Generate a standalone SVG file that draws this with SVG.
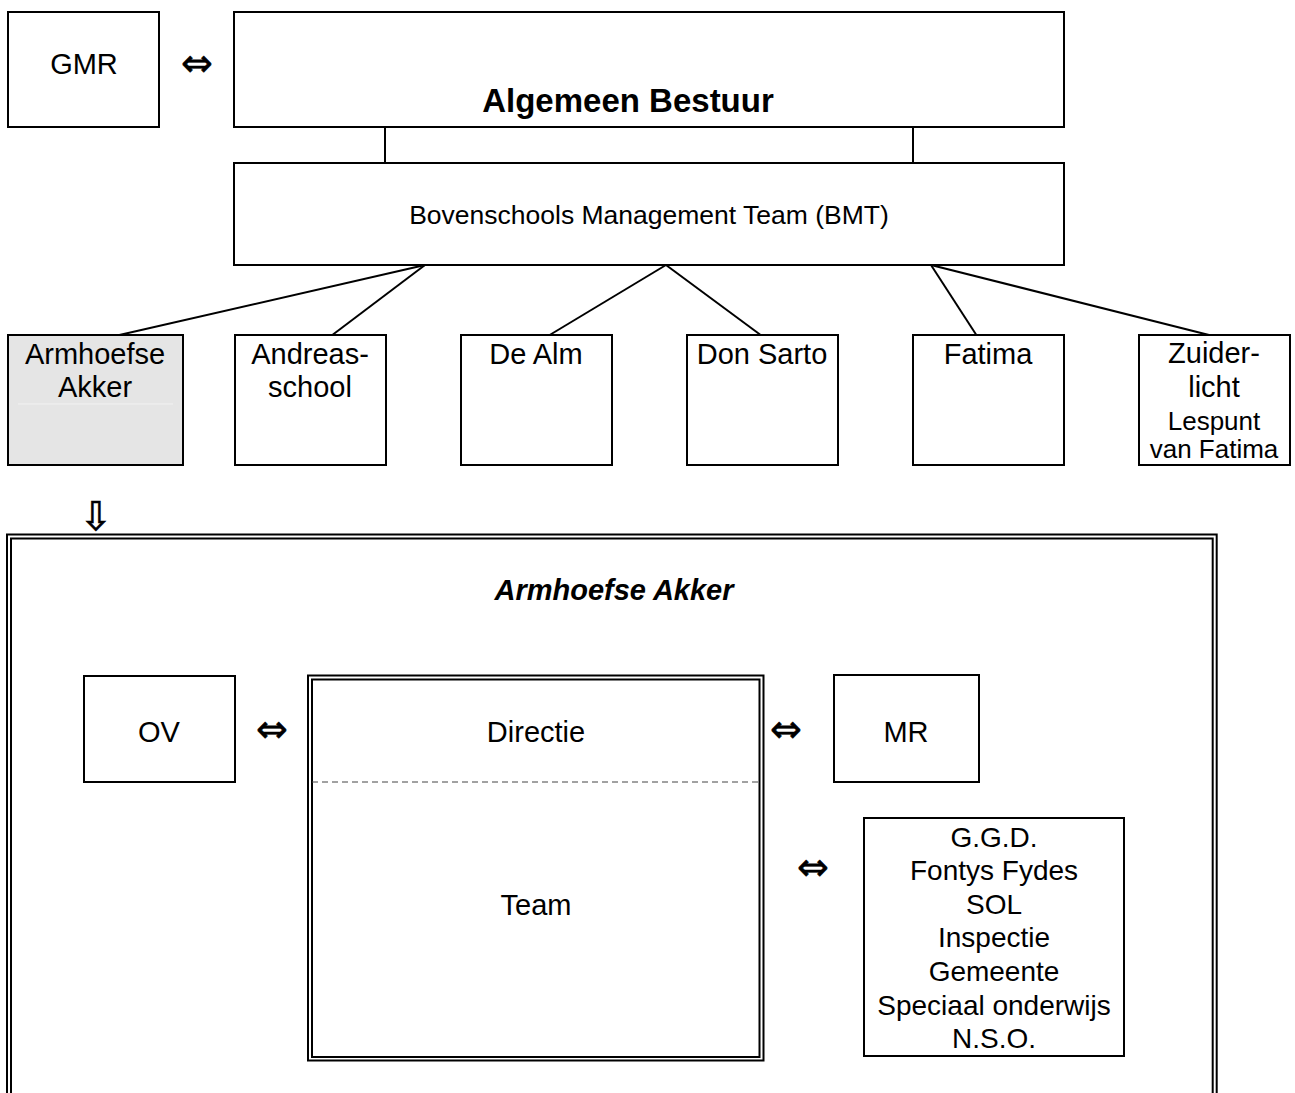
<svg xmlns="http://www.w3.org/2000/svg" width="1295" height="1093" viewBox="0 0 1295 1093">
<style>
.box{fill:#fff;stroke:#000;stroke-width:2}
.ln{stroke:#000;stroke-width:2;fill:none}
.t{font-family:"Liberation Sans",Arial,sans-serif;font-size:29px;fill:#000;text-anchor:middle}
.s{font-size:26px}
.e{font-size:28px}
.sym{font-family:"DejaVu Sans",sans-serif;font-size:38px;fill:#000;stroke:#000;stroke-width:0.6;text-anchor:middle}
</style>
<rect width="1295" height="1093" fill="#fff"/>
<g id="connectors">
<line class="ln" x1="385" y1="127" x2="385" y2="163"/>
<line class="ln" x1="913" y1="127" x2="913" y2="163"/>
<line class="ln" x1="425" y1="265" x2="115" y2="336"/>
<line class="ln" x1="425" y1="265" x2="331" y2="336"/>
<line class="ln" x1="666" y1="265" x2="548" y2="336"/>
<line class="ln" x1="666" y1="265" x2="762" y2="336"/>
<line class="ln" x1="931" y1="265" x2="977" y2="336"/>
<line class="ln" x1="931" y1="265" x2="1213" y2="336"/>
</g>
<g id="gmr"><rect class="box" x="8" y="12" width="151" height="115"/><text class="t" x="84" y="74">GMR</text></g>
<text class="sym" x="197" y="76">⇔</text>
<g id="ab"><rect class="box" x="234" y="12" width="830" height="115"/><text class="t" x="628" y="112" style="font-weight:bold;font-size:33px">Algemeen Bestuur</text></g>
<g id="bmt"><rect class="box" x="234" y="163" width="830" height="102"/><text class="t" x="649" y="224" style="font-size:26.5px">Bovenschools Management Team (BMT)</text></g>
<g id="armhoefse"><rect x="8" y="335" width="175" height="130" fill="#e5e5e5" stroke="#000" stroke-width="2"/><line x1="18" y1="404" x2="173" y2="404" stroke="#f2f2f2" stroke-width="1"/><text class="t" x="95" y="364">Armhoefse</text><text class="t" x="95" y="397">Akker</text></g>
<g id="andreas"><rect class="box" x="235" y="335" width="151" height="130"/><text class="t" x="310" y="364">Andreas-</text><text class="t" x="310" y="397">school</text></g>
<g id="dealm"><rect class="box" x="461" y="335" width="151" height="130"/><text class="t" x="536" y="364">De Alm</text></g>
<g id="donsarto"><rect class="box" x="687" y="335" width="151" height="130"/><text class="t" x="762" y="364">Don Sarto</text></g>
<g id="fatima"><rect class="box" x="913" y="335" width="151" height="130"/><text class="t" x="988" y="364">Fatima</text></g>
<g id="zuiderlicht"><rect class="box" x="1139" y="335" width="151" height="130"/><text class="t" x="1214" y="363">Zuider-</text><text class="t" x="1214" y="397">licht</text><text class="t s" x="1214" y="430">Lespunt</text><text class="t s" x="1214" y="458">van Fatima</text></g>
<text class="sym" x="96" y="530" style="font-size:40px">⇩</text>
<g id="armhoefse-detail">
<path class="ln" d="M7,1100 V534.5 H1216.7 V1100"/>
<path class="ln" d="M11,1100 V538.5 H1212.7 V1100"/>
<text class="t" x="614" y="600" style="font-weight:bold;font-style:italic">Armhoefse Akker</text>
</g>
<g id="ov"><rect class="box" x="84" y="676" width="151" height="106"/><text class="t" x="159" y="742">OV</text></g>
<text class="sym" x="272" y="742">⇔</text>
<g id="directie-team">
<rect class="box" x="308" y="675.5" width="455.5" height="385"/>
<rect class="box" x="312" y="679.5" width="447.5" height="377.5"/>
<line x1="312" y1="782" x2="759" y2="782" stroke="#444" stroke-width="1" stroke-dasharray="6,4"/>
<text class="t" x="536" y="742">Directie</text>
<text class="t" x="536" y="915">Team</text>
</g>
<text class="sym" x="786" y="742">⇔</text>
<g id="mr"><rect class="box" x="834" y="675" width="145" height="107"/><text class="t" x="906" y="742">MR</text></g>
<text class="sym" x="813" y="880">⇔</text>
<g id="extern"><rect class="box" x="864" y="818" width="260" height="238"/>
<text class="t e" x="994" y="847">G.G.D.</text>
<text class="t e" x="994" y="880">Fontys Fydes</text>
<text class="t e" x="994" y="914">SOL</text>
<text class="t e" x="994" y="947">Inspectie</text>
<text class="t e" x="994" y="981">Gemeente</text>
<text class="t e" x="994" y="1015">Speciaal onderwijs</text>
<text class="t e" x="994" y="1048">N.S.O.</text>
</g>
</svg>
